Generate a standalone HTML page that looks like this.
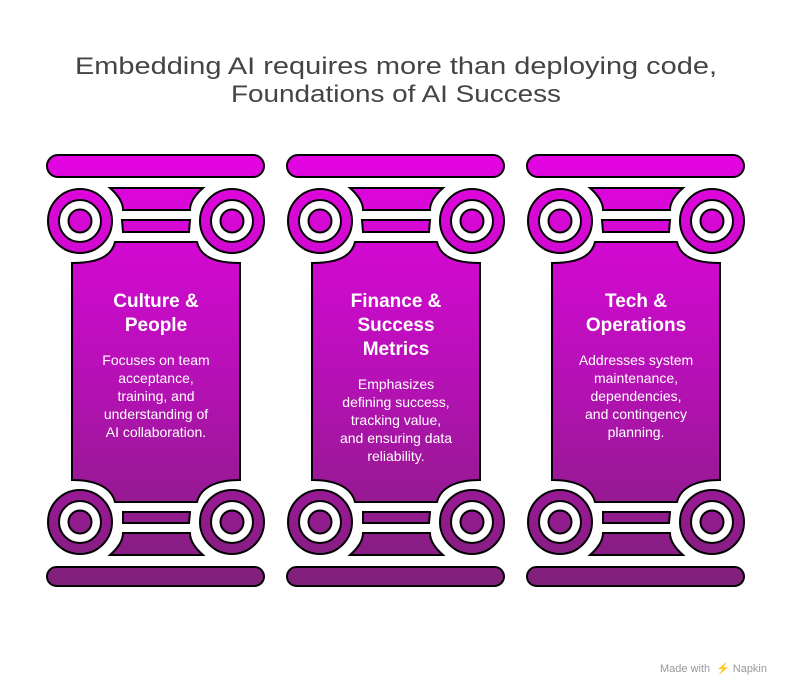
<!DOCTYPE html>
<html><head><meta charset="utf-8"><style>
html,body{margin:0;padding:0;background:#fff;}
svg{display:block;}
text{font-family:"Liberation Sans",sans-serif;}
</style></head><body>
<svg width="792" height="696" viewBox="0 0 792 696" xmlns="http://www.w3.org/2000/svg">
<defs>
<linearGradient id="g" gradientUnits="userSpaceOnUse" x1="0" y1="155" x2="0" y2="585">
<stop offset="0" stop-color="#e404e2"/>
<stop offset="0.5" stop-color="#b810b8"/>
<stop offset="1" stop-color="#80207a"/>
</linearGradient>
<g id="p" stroke="#000" stroke-width="2">
  <rect x="47" y="155" width="217" height="22" rx="11" fill="url(#g)"/>
  <path d="M115,242 H197 C200,255 212,263 240,263 V480 C212,480 200,490 197,502 H115 C112,490 100,480 72,480 V263 C100,263 112,255 115,242 Z" fill="url(#g)"/>
  <path d="M110,188 H203 C195,195 190,202 190,210 H123 C123,202 118,195 110,188 Z" fill="url(#g)"/>
  <path d="M122,220 H190 L189,232 H123 Z" fill="url(#g)"/>
  <path d="M123,512 H190 L189,523 H123 Z" fill="url(#g)"/>
  <path d="M123,533 H190 C190,541 195,548 203,555 H110 C118,548 123,541 123,533 Z" fill="url(#g)"/>
  <rect x="47" y="567" width="217" height="19" rx="9.5" fill="url(#g)"/>
  <g>
    <circle cx="80" cy="221" r="38" fill="#fff" stroke="none"/>
    <circle cx="80" cy="221" r="32" fill="url(#g)"/>
    <circle cx="80" cy="221" r="21" fill="#fff"/>
    <circle cx="80" cy="221" r="11.5" fill="url(#g)"/>
    <circle cx="232" cy="221" r="38" fill="#fff" stroke="none"/>
    <circle cx="232" cy="221" r="32" fill="url(#g)"/>
    <circle cx="232" cy="221" r="21" fill="#fff"/>
    <circle cx="232" cy="221" r="11.5" fill="url(#g)"/>
    <circle cx="80" cy="522" r="38" fill="#fff" stroke="none"/>
    <circle cx="80" cy="522" r="32" fill="url(#g)"/>
    <circle cx="80" cy="522" r="21" fill="#fff"/>
    <circle cx="80" cy="522" r="11.5" fill="url(#g)"/>
    <circle cx="232" cy="522" r="38" fill="#fff" stroke="none"/>
    <circle cx="232" cy="522" r="32" fill="url(#g)"/>
    <circle cx="232" cy="522" r="21" fill="#fff"/>
    <circle cx="232" cy="522" r="11.5" fill="url(#g)"/>
  </g>
</g>
</defs>
<text x="396" y="74" text-anchor="middle" font-size="24" fill="#444" textLength="642" lengthAdjust="spacingAndGlyphs">Embedding AI requires more than deploying code,</text>
<text x="396" y="102" text-anchor="middle" font-size="24" fill="#444" textLength="330" lengthAdjust="spacingAndGlyphs">Foundations of AI Success</text>
<use href="#p"/>
<use href="#p" x="240"/>
<use href="#p" x="480"/>
<g fill="#fff" text-anchor="middle">
<g font-size="19" font-weight="bold">
<text x="156" y="307">Culture &amp;</text>
<text x="156" y="331">People</text>
<text x="396" y="307">Finance &amp;</text>
<text x="396" y="331">Success</text>
<text x="396" y="355">Metrics</text>
<text x="636" y="307">Tech &amp;</text>
<text x="636" y="331">Operations</text>
</g>
<g font-size="14">
<text x="156" y="365">Focuses on team</text>
<text x="156" y="383">acceptance,</text>
<text x="156" y="401">training, and</text>
<text x="156" y="419">understanding of</text>
<text x="156" y="437">AI collaboration.</text>
<text x="396" y="389">Emphasizes</text>
<text x="396" y="407">defining success,</text>
<text x="396" y="425">tracking value,</text>
<text x="396" y="443">and ensuring data</text>
<text x="396" y="461">reliability.</text>
<text x="636" y="365">Addresses system</text>
<text x="636" y="383">maintenance,</text>
<text x="636" y="401">dependencies,</text>
<text x="636" y="419">and contingency</text>
<text x="636" y="437">planning.</text>
</g>
</g>
<text x="660" y="672" font-size="11" fill="#999">Made with</text>
<text x="716" y="672" font-size="11" fill="#999">⚡ Napkin</text>
</svg>
</body></html>
